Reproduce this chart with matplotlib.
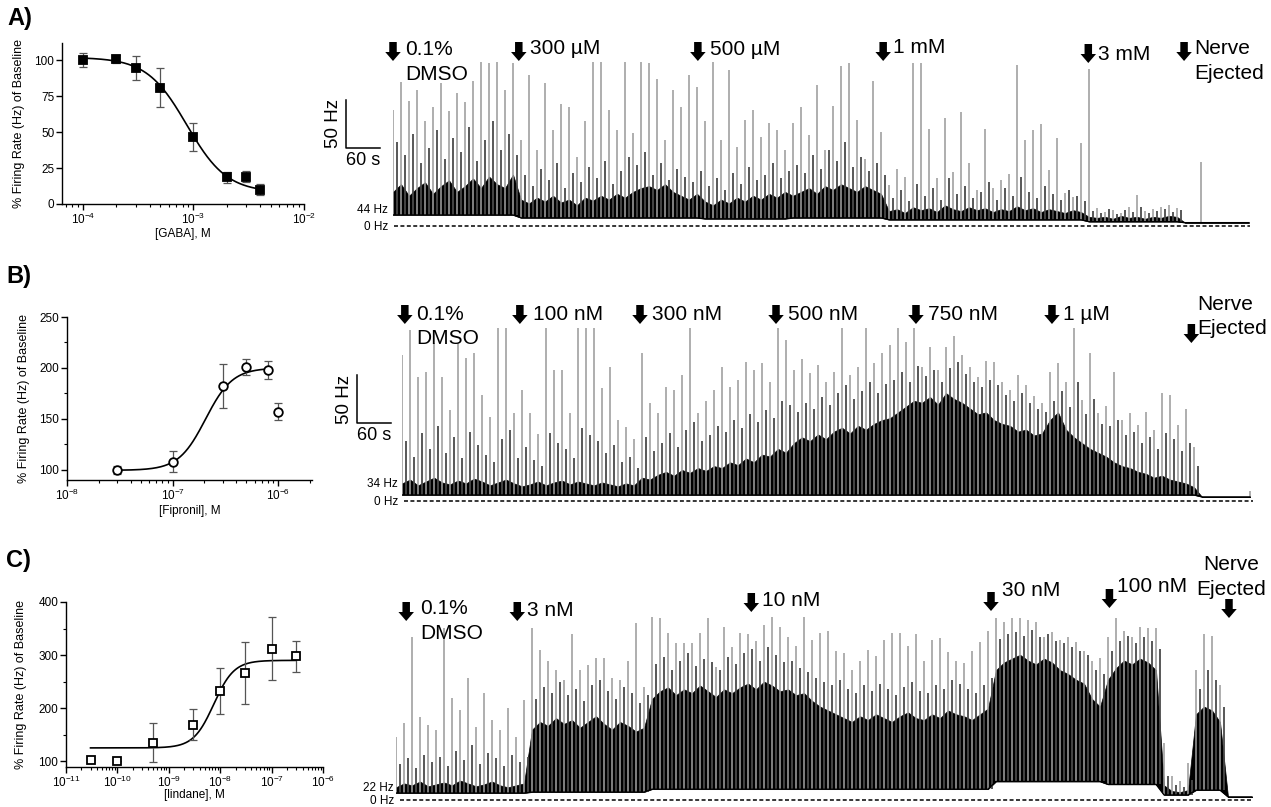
import numpy as np
import matplotlib.pyplot as plt

plt.rcParams['font.family'] = ['Liberation Sans', 'DejaVu Sans']

# ---------------- dose-response data (left column) ----------------
gaba_conc = [1e-4, 2e-4, 3e-4, 5e-4, 1e-3, 2e-3, 3e-3, 4e-3]
gaba_resp = [100, 101, 94.5, 81, 46.5, 18.5, 19, 10]
gaba_sem = [5, 3, 8.5, 13.5, 9.5, 4, 4, 4]
gaba_fit = [8, 102, 8.7e-4, -2.4]          # bottom, top, EC50, hill slope
gaba_fit_range = [1e-4, 4e-3]

fip_conc = [3e-8, 1e-7, 3e-7, 5e-7, 8e-7, 1e-6]
fip_resp = [100, 108, 182, 201, 198, 157]
fip_sem = [4, 10, 21.5, 8, 8.5, 8.5]
fip_fit = [99.5, 200, 2.05e-7, 3.4]
fip_fit_range = [3e-8, 8e-7]

lin_conc = [3e-11, 1e-10, 5e-10, 3e-9, 1e-8, 3e-8, 1e-7, 3e-7]
lin_resp = [102, 100, 135, 169, 232, 266, 312, 298]
lin_sem = [0, 0, 36, 29, 44, 59, 59, 29]
lin_fit = [125, 290, 7.5e-9, 2.2]
lin_fit_range = [3e-11, 3e-7]

# ---------------- firing-rate traces (Hz, one value per 14 s bin) ----------------
# floor = bottom of the trace, band = solid black part,
# mid = dark grey bursts, spike = tallest light grey spikes
A_floor = [42]*16 + [39]*23 + [38]*11 + [39]*12 + [37]*25 + [35]*12 + [34]*9
A_band = [66, 74, 62, 70, 76, 64, 72, 78, 66, 72, 80, 70, 82, 74, 70, 84,
          58, 54, 60, 56, 62, 55, 58, 52, 60, 57, 62, 58, 64, 60, 66, 70, 72, 68, 74, 66, 62, 58, 64,
          56, 52, 58, 54, 60, 56, 62, 58, 64, 60, 66,
          62, 66, 70, 64, 72, 68, 74, 70, 66, 72, 68, 64,
          46, 48, 44, 50, 47, 49, 45, 52, 48, 46, 50, 47, 49, 45, 48, 46, 51, 47, 49, 45, 48, 46, 44, 47, 45,
          40, 39, 40, 38, 41, 39, 40, 38, 40, 39, 41, 40,
          34, 34, 34, 34, 34, 34, 34, 34, 34]
A_mid = [118, 104, 126, 96, 112, 130, 100, 122, 108, 134, 98, 120, 140, 110, 126, 104,
         84, 72, 90, 78, 96, 70, 86, 76, 92, 80, 98, 74, 88, 102, 94, 108, 84, 96, 78, 90, 82, 76, 88,
         72, 80, 68, 86, 74, 92, 78, 84, 96, 80, 88,
         94, 86, 104, 90, 110, 98, 118, 92, 102, 88, 96, 84,
         60, 68, 56, 74, 62, 70, 58, 80, 64, 72, 60, 66, 76, 58, 70, 62, 82, 66, 60, 72, 64, 58, 68, 62, 56,
         46, 44, 48, 43, 47, 45, 50, 44, 46, 48, 45, 47,
         34, 34, 34, 34, 34, 34, 34, 34, 34]
A_spike = [151, 180, 161, 172, 140, 154, 179, 150, 169, 160, 182, 201, 200, 201, 172, 200,
           120, 188, 110, 179, 130, 158, 154, 102, 140, 201, 201, 151, 130, 201, 127, 201, 200,
           184, 120, 172, 154, 188, 175, 140, 201, 120, 193, 113, 141, 151, 123, 138, 130, 110,
           138, 154, 125, 177, 110, 155, 197, 200, 141, 100, 181, 128, 73, 90, 82, 200, 200, 132,
           80, 143, 87, 149, 96, 68, 132, 70, 78, 85, 198, 120, 130, 137, 89, 122, 65, 61, 117,
           194, 49, 45, 47, 44, 50, 63, 46, 48, 50, 52, 49,
           34, 34, 97, 34, 34, 34, 34, 34, 34]
A_events = [0, 222, 538, 865, 1227, 1396]
A_labels = ['0.1%\nDMSO', '300 µM', '500 µM', '1 mM', '3 mM', 'Nerve\nEjected']

B_floor = [32]*100 + [30]*7
B_band = [44, 48, 42, 46, 50, 45, 43, 47, 44, 49, 46, 42, 45, 48, 44, 41, 43, 46, 42, 45,
          47, 43, 46, 44, 42, 45, 43, 41, 44, 42,
          50, 48, 53, 56, 52, 58, 55, 60, 57, 62, 60, 66, 63, 70, 66, 74, 72,
          80, 76, 86, 92, 88, 95, 90, 98, 102, 96, 104, 100, 106, 110,
          112, 118, 124, 130, 128, 134, 126, 138, 132, 128, 122, 116, 118, 110, 106,
          104, 98, 100, 94, 96, 110, 118, 100, 92, 86, 80, 76,
          72, 66, 62, 60, 56, 54, 50, 52, 48, 46, 44, 40,
          30, 30, 30, 30, 30, 30, 30]
B_mid = [88, 72, 96, 80, 104, 76, 92, 70, 98, 84,
         74, 66, 90, 100, 70, 82, 68, 62, 96, 86,
         80, 70, 102, 94, 88, 76, 84, 66, 72, 60,
         92, 78, 86, 96, 82, 100, 108, 88, 94, 104,
         98, 110, 102, 116, 108, 120, 112, 130, 126, 118,
         128, 122, 134, 126, 138, 146, 132, 140, 150, 138,
         148, 152, 160, 150, 166, 156, 162, 150, 164, 170,
         158, 150, 144, 152, 146, 136, 130, 138, 128, 122,
         118, 130, 140, 124, 150, 116, 132, 106, 104, 110,
         94, 98, 86, 92, 80, 96, 90, 78, 86, 62,
         30, 30, 30, 30, 30, 30, 30]
B_spike = [178, 204, 155, 160, 190, 155, 120, 190, 175, 180,
           136, 113, 206, 206, 117, 141, 117, 95, 206, 162,
           162, 117, 206, 206, 206, 143, 165, 110, 103, 90,
           180, 128, 117, 144, 141, 157, 206, 117, 130, 141,
           165, 144, 152, 170, 162, 169, 150, 206, 193, 162,
           174, 159, 167, 150, 160, 206, 157, 165, 206, 169,
           180, 188, 206, 191, 206, 165, 186, 162, 186, 198,
           178, 165, 155, 172, 170, 150, 141, 157, 146, 135,
           128, 160, 169, 150, 206, 131, 180, 117, 125, 160,
           110, 117, 105, 118, 100, 138, 136, 105, 122, 82,
           30, 30, 30, 30, 30, 30, 36]
B_events = [5, 208, 420, 660, 907, 1147, 1393]
B_labels = ['0.1%\nDMSO', '100 nM', '300 nM', '500 nM', '750 nM', '1 µM', 'Nerve\nEjected']

C_floor = [22]*17 + [23]*15 + [26]*43 + [34]*14 + [31]*7 + [20]*4 + [25]*4 + [18]*4
C_band = [28, 32, 30, 34, 29, 31, 33, 30, 35, 32, 29, 31, 34, 30, 28, 30, 32,
          88, 96, 92, 100, 94, 98, 90, 96, 102, 94, 88, 96, 92, 86, 90,
          120, 128, 132, 124, 130, 126, 134, 128, 122, 130, 126, 132, 136, 130, 138, 134, 128,
          130, 124, 126, 118, 112, 108, 104, 100, 96, 102, 98, 104, 100, 96, 102, 106, 100,
          98, 104, 100, 108, 104, 102, 98, 104, 110,
          150, 158, 162, 166, 160, 156, 162, 158, 150, 146, 140, 136, 120, 112,
          140, 152, 160, 156, 162, 158, 150,
          30, 24, 23, 25,
          104, 112, 108, 96,
          18, 18, 18, 18]
C_mid = [52, 58, 48, 62, 54, 60, 50, 66, 56, 72, 52, 64, 58, 50, 62, 54, 60,
         120, 132, 126, 138, 124, 130, 118, 134, 140, 128, 120, 132, 126, 116, 124,
         156, 164, 150, 160, 168, 154, 162, 158, 150, 164, 156, 168, 172, 160, 174, 166, 158,
         160, 152, 148, 142, 138, 134, 140, 130, 126, 134, 128, 136, 130, 124, 132, 138, 128,
         126, 134, 130, 140, 136, 130, 126, 134, 142,
         182, 188, 190, 186, 192, 184, 188, 180, 178, 174, 170, 166, 150, 146,
         170, 180, 186, 178, 184, 180, 172,
         40, 30, 28, 36,
         130, 150, 140, 112,
         18, 18, 18, 18]
C_spike = [80, 95, 184, 101, 93, 88, 194, 121, 108, 142,
           91, 126, 98, 88, 111, 80, 119, 194, 171, 160,
           150, 140, 188, 150, 155, 163, 163, 142, 140, 160,
           199, 132, 205, 204, 189, 178, 178, 178, 189, 204,
           153, 195, 174, 189, 188, 180, 197, 205, 195, 184,
           175, 205, 181, 189, 191, 170, 168, 150, 160, 171,
           165, 181, 189, 189, 175, 188, 160, 181, 183, 169,
           160, 157, 170, 179, 191, 204, 200, 204, 204, 202,
           200, 184, 190, 181, 184, 179, 170, 160, 163, 185,
           204, 191, 185, 195, 194, 194, 74, 40, 35, 53,
           150, 188, 186, 134, 18, 18, 18, 18]
C_events = [18, 214, 627, 1050, 1259, 1470]
C_labels = ['0.1%\nDMSO', '3 nM', '10 nM', '30 nM', '100 nM', 'Nerve\nEjected']

# ---------------- layout helpers ----------------
W, H = 1271, 807
fig = plt.figure(figsize=(W / 100, H / 100), dpi=100)

SPP = 60 / 34      # seconds per pixel (60 s scale bar)
HPP = 50 / 48      # Hz per pixel (50 Hz scale bar)
STEP = 8 * SPP     # bin width of the trace arrays


def px_axes(x0, y0, x1, y1):
    return fig.add_axes([x0 / W, 1 - y1 / H, (x1 - x0) / W, (y1 - y0) / H])


def dose_panel(rect, conc, resp, sem, fit, fit_range, marker, filled, xlim, ylim,
               yticks, yminor, xticks, xlabel, lab_x, xlab_y):
    ax = px_axes(*rect)
    b, t, ec, h = fit
    xs = np.logspace(np.log10(fit_range[0]), np.log10(fit_range[1]), 300)
    ax.plot(xs, b + (t - b) / (1 + 10 ** ((np.log10(ec) - np.log10(xs)) * h)),
            color='black', lw=1.2)
    ax.errorbar(conc, resp, yerr=sem, fmt='none', ecolor='#555555',
                elinewidth=0.9, capsize=2.8, capthick=0.9)
    ax.plot(conc, resp, ls='none', marker=marker, ms=5.5 if filled else 6.2,
            mfc='black' if filled else 'white', mec='black', mew=1.3)
    ax.set_xscale('log')
    ax.set_xlim(*xlim)
    ax.set_ylim(*ylim)
    ax.set_xticks(xticks)
    ax.set_yticks(yticks)
    ax.set_yticks(yminor, minor=True)
    for s in ['top', 'right']:
        ax.spines[s].set_visible(False)
    for s in ['left', 'bottom']:
        ax.spines[s].set_linewidth(1.0)
    ax.tick_params(which='major', length=4, width=1.0, labelsize=8.5, pad=1.5)
    ax.tick_params(which='minor', length=2.2, width=0.8)
    ax.set_ylabel('% Firing Rate (Hz) of Baseline', fontsize=9)
    ax.set_xlabel(xlabel, fontsize=8.5)
    ax.yaxis.set_label_coords(lab_x, 0.5)
    ax.xaxis.set_label_coords(0.5, xlab_y)
    return ax


def trace_panel(x0, x1, y0, y1, base_px, base_hz, floor, band, mid, spike):
    ax = px_axes(x0, y0, x1, y1)
    ax.set_xlim(0, (x1 - x0) * SPP)
    ax.set_ylim(base_hz - (y1 - base_px) * HPP, base_hz + (base_px - y0) * HPP)
    ax.axis('off')
    t = np.arange(len(band)) * STEP
    ax.vlines(t, floor, spike, color='#9c9c9c', lw=1.15)
    ax.vlines(t + STEP / 2, floor, mid, color='#4a4a4a', lw=1.3)
    ax.fill_between(t, floor, band, color='black', lw=0.5)
    ax.plot(t, floor, color='black', lw=0.9)

    def tx(px):
        return (px - x0) * SPP

    def hy(py):
        return base_hz + (base_px - py) * HPP
    return ax, tx, hy


def drug_arrows(ax, tx, hy, events, labels, tops, text_y, dx=11, ha='left'):
    for i, (ev, lab) in enumerate(zip(events, labels)):
        top = tops[i]
        ax.arrow(ev, hy(top), 0, -19 * HPP, width=7.5 * SPP, head_width=15.5 * SPP,
                 head_length=9 * HPP, length_includes_head=True, color='black',
                 lw=0, clip_on=False)
        d = dx[i] if isinstance(dx, list) else dx
        a = ha[i] if isinstance(ha, list) else ha
        for j, line in enumerate(lab.split('\n')):
            ax.text(ev + d * SPP, hy(text_y[i] + 24.5 * j), line, fontsize=15,
                    ha=a, va='center_baseline')


def hz_labels(ax, tx, hy, right_px, base_px, base_txt, zero_px, end_px):
    ax.text(tx(right_px), hy(base_px), base_txt, ha='right', va='center', fontsize=8.5)
    ax.text(tx(right_px), hy(zero_px + 1), '0 Hz', ha='right', va='center', fontsize=8.5)
    ax.plot([tx(right_px + 6), tx(end_px)], [hy(zero_px)] * 2, color='black',
            lw=1.1, ls=(0, (2.6, 1.6)), clip_on=False)


def scale_bar(ax, tx, hy, x_px, y_px):
    x, y = tx(x_px), hy(y_px)
    ax.plot([x, x, x + 60], [y + 50, y, y], color='black', lw=1.1, clip_on=False)
    ax.text(x - 4 * SPP, y + 25, '50 Hz', rotation=90, ha='right', va='center',
            fontsize=13.5)
    ax.text(x + 30, y - 4 * HPP, '60 s', ha='center', va='top', fontsize=13)


# ---------------- left column ----------------
dose_panel((62, 43, 304, 204), gaba_conc, gaba_resp, gaba_sem, gaba_fit, gaba_fit_range,
           's', True, (10 ** -4.19, 1e-2), (0, 112), [0, 25, 50, 75, 100], [],
           [1e-4, 1e-3, 1e-2], '[GABA], M', -0.153, -0.15)
dose_panel((67, 317, 312, 480), fip_conc, fip_resp, fip_sem, fip_fit, fip_fit_range,
           'o', False, (1e-8, 10 ** -5.68), (90, 250), [100, 150, 200, 250], [125, 175, 225],
           [1e-8, 1e-7, 1e-6], '[Fipronil], M', -0.151, -0.155)
dose_panel((66, 602, 323, 767), lin_conc, lin_resp, lin_sem, lin_fit, lin_fit_range,
           's', False, (1e-11, 1e-6), (89, 400), [100, 200, 300, 400], [150, 250, 350],
           [1e-11, 1e-10, 1e-9, 1e-8, 1e-7, 1e-6], '[lindane], M', -0.152, -0.135)

for txt, x, y in [('A)', 7, 19), ('B)', 6, 276), ('C)', 6, 561)]:
    fig.text(x / W, 1 - y / H, txt, fontsize=17, fontweight='bold', va='center')

# ---------------- traces ----------------
ax, tx, hy = trace_panel(393, 1262, 30, 235, 213, 44, A_floor, A_band, A_mid, A_spike)
hz_labels(ax, tx, hy, 388, 210, '44 Hz', 226, 1250)
scale_bar(ax, tx, hy, 346, 148)
drug_arrows(ax, tx, hy, A_events, A_labels, [42, 42, 42, 42, 44, 42],
            [48, 47, 48, 46, 53, 47], dx=[12, 11, 12, 10, 10, 10])

ax, tx, hy = trace_panel(402, 1262, 288, 510, 493, 34, B_floor, B_band, B_mid, B_spike)
hz_labels(ax, tx, hy, 398, 484, '34 Hz', 501, 1253)
scale_bar(ax, tx, hy, 357, 423)
drug_arrows(ax, tx, hy, B_events, B_labels, [305, 305, 305, 305, 305, 305, 324],
            [312, 312, 312, 312, 312, 312, 302], dx=[11, 13, 12, 12, 12, 11, 6])

ax, tx, hy = trace_panel(396, 1262, 545, 807, 793, 22, C_floor, C_band, C_mid, C_spike)
hz_labels(ax, tx, hy, 394, 788, '22 Hz', 800, 1252)
drug_arrows(ax, tx, hy, C_events, C_labels, [602, 602, 593, 592, 589, 599],
            [607, 608, 598, 588, 585, 563], dx=[14, 10, 11, 11, 8, 2],
            ha=['left'] * 5 + ['center'])

fig.savefig('out.png', dpi=100)
